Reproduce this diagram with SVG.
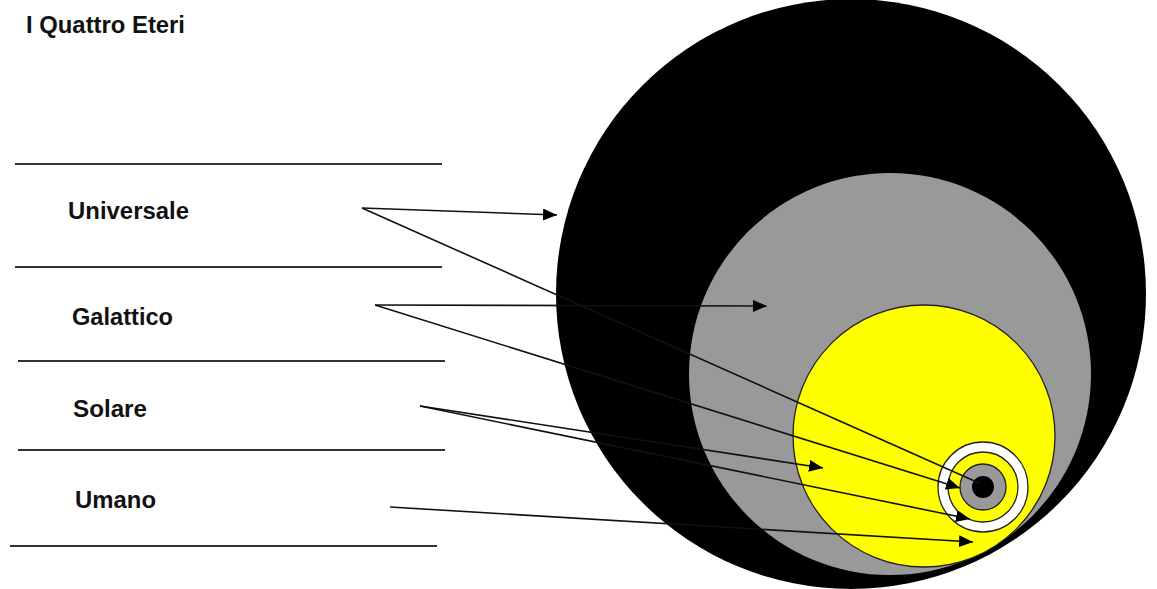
<svg xmlns="http://www.w3.org/2000/svg" width="1157" height="589" viewBox="0 0 1157 589">
  <style>
    .lbl { font-family: "Liberation Sans", Arial, sans-serif; font-weight: bold; font-size: 23.5px; fill: #111; }
    .rule { stroke: #333; stroke-width: 2; }
    .conn { stroke: #111; stroke-width: 1.6; fill: none; }
    .ring { stroke: #222; stroke-width: 1.3; }
  </style>
  <defs>
    <marker id="arr" markerUnits="userSpaceOnUse" markerWidth="16" markerHeight="12" refX="14" refY="6" orient="auto">
      <path d="M0,0 L14,6 L0,12 Z" fill="#000"/>
    </marker>
  </defs>
  <rect width="1157" height="589" fill="#fff"/>

  <text class="lbl" x="26" y="33" textLength="159" lengthAdjust="spacingAndGlyphs">I Quattro Eteri</text>

  <g id="rules">
    <line class="rule" x1="15" y1="164" x2="442" y2="164"/>
    <line class="rule" x1="15" y1="267" x2="442" y2="267"/>
    <line class="rule" x1="18" y1="361" x2="445" y2="361"/>
    <line class="rule" x1="18" y1="450" x2="445" y2="450"/>
    <line class="rule" x1="10" y1="546" x2="437" y2="546"/>
  </g>

  <g id="label-universale"><text class="lbl" x="68" y="219" textLength="121" lengthAdjust="spacingAndGlyphs">Universale</text></g>
  <g id="label-galattico"><text class="lbl" x="72" y="325" textLength="101" lengthAdjust="spacingAndGlyphs">Galattico</text></g>
  <g id="label-solare"><text class="lbl" x="73" y="417" textLength="74" lengthAdjust="spacingAndGlyphs">Solare</text></g>
  <g id="label-umano"><text class="lbl" x="75" y="508" textLength="81" lengthAdjust="spacingAndGlyphs">Umano</text></g>

  <g id="etere-universale"><circle cx="851" cy="294" r="295" fill="#000"/></g>
  <g id="etere-galattico"><circle cx="890" cy="374" r="201" fill="#999"/></g>
  <g id="etere-solare"><circle cx="924" cy="436" r="131" fill="#ffff00" class="ring"/></g>
  <g id="etere-umano">
    <circle cx="983" cy="487" r="45" fill="#fff" class="ring"/>
    <circle cx="983" cy="487" r="35" fill="#ffff00" class="ring"/>
    <circle cx="983" cy="487" r="23" fill="#999" class="ring"/>
    <circle cx="983" cy="487" r="11" fill="#000"/>
  </g>

  <g id="connectors">
    <line class="conn" x1="362" y1="208" x2="557" y2="215" marker-end="url(#arr)"/>
    <line class="conn" x1="362" y1="208" x2="979" y2="483"/>
    <line class="conn" x1="375" y1="305" x2="767" y2="306" marker-end="url(#arr)"/>
    <line class="conn" x1="375" y1="305" x2="960" y2="488" marker-end="url(#arr)"/>
    <line class="conn" x1="420" y1="406" x2="823" y2="468" marker-end="url(#arr)"/>
    <line class="conn" x1="420" y1="406" x2="970" y2="519" marker-end="url(#arr)"/>
    <line class="conn" x1="390" y1="507" x2="973" y2="542" marker-end="url(#arr)"/>
  </g>
</svg>
